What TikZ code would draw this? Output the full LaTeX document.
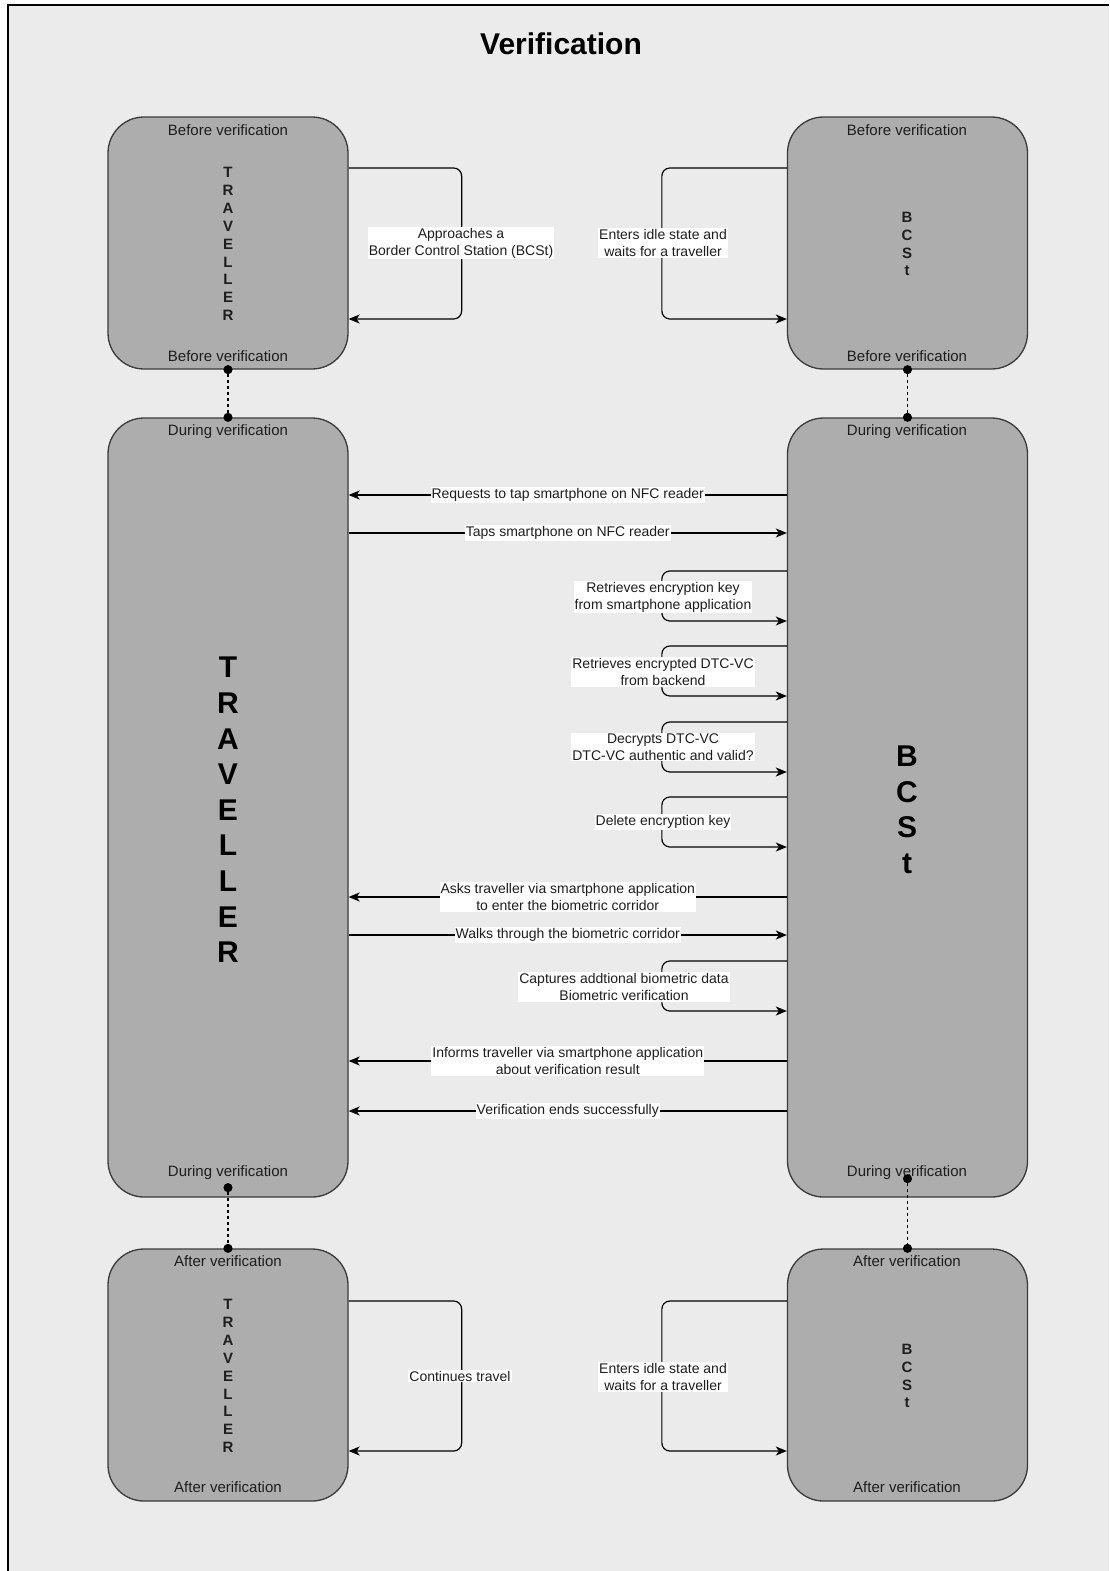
\documentclass[tikz,border=0pt]{standalone}
\usepackage{fontspec}
\setmainfont{Liberation Sans}
\usetikzlibrary{arrows.meta}
\definecolor{pagegray}{HTML}{EBEBEB}
\definecolor{boxgray}{HTML}{ADADAD}
\definecolor{edgegray}{HTML}{3A3A3A}
\definecolor{inkgray}{HTML}{1E1E1E}

\begin{document}
\begin{tikzpicture}[
	x=1pt, y=-1pt,
	lane/.style={
		draw=edgegray,
		fill=boxgray,
		rounded corners=36pt,
		line width=1.3pt,
		minimum width=240pt,
		inner sep=0pt
	},
	phase/.style={font=\fontsize{15}{18}\selectfont, text=inkgray, inner sep=0pt},
	actor/.style={align=center, font=\fontsize{15}{17.9}\selectfont\bfseries, text=inkgray},
	bigactor/.style={align=center, font=\fontsize{30}{35.6}\selectfont\bfseries, text=black},
	msg/.style={fill=white, sharp corners, align=center, inner sep=1pt, font=\fontsize{14}{17}\selectfont, text=inkgray},
	flow/.style={draw=black, line width=1.2pt, rounded corners=8pt},
	link/.style={
		draw=black, line width=1.1pt, dash pattern=on 3pt off 3pt,
		{Circle[length=9pt]}-{Circle[length=9pt]},
		shorten <=-4.5pt, shorten >=-4.5pt
	},
	>={Stealth[length=11pt,width=9pt,inset=3pt]}
	]
	
	\useasboundingbox (0,0) rectangle (1109,1571);
	\fill[white] (0,0) rectangle (1109,1571);
	\fill[pagegray] (8,5) rectangle (1109,1571);
	\draw[line width=1.3pt] (8,1571) -- (8,5) -- (1109,5);
	
	\node[font=\fontsize{30}{36}\selectfont\bfseries] (title) at (561,44) {Verification};
	
	\node[lane, minimum height=252pt] (trvB) at (228,243) {};
	\node[lane, minimum height=252pt] (bcsB) at (907.5,243) {};
	\node[lane, minimum height=779pt] (trvD) at (228,807.5) {};
	\node[lane, minimum height=779pt] (bcsD) at (907.5,807.5) {};
	\node[lane, minimum height=252pt] (trvA) at (228,1375) {};
	\node[lane, minimum height=252pt] (bcsA) at (907.5,1375) {};
	
	\node[phase] (trvBt) at (228,130) {Before verification};
	\node[phase] (trvBb) at (228,356) {Before verification};
	\node[phase] (bcsBt) at (907,130) {Before verification};
	\node[phase] (bcsBb) at (907,356) {Before verification};
	\node[phase] (trvDt) at (228,432) {During verification};
	\node[phase] (trvDb) at (228,1173) {During verification};
	\node[phase] (bcsDt) at (907,432) {During verification};
	\node[phase] (bcsDb) at (907,1173) {During verification};
	\node[phase] (trvAt) at (228,1261) {After verification};
	\node[phase] (trvAb) at (228,1487) {After verification};
	\node[phase] (bcsAt) at (907,1261) {After verification};
	\node[phase] (bcsAb) at (907,1487) {After verification};
	
	\node[actor] (trvBn) at (228,244) {T\\R\\A\\V\\E\\L\\L\\E\\R};
	\node[actor] (bcsBn) at (907,244) {B\\C\\S\\t};
	\node[bigactor] (trvDn) at (228,810) {T\\R\\A\\V\\E\\L\\L\\E\\R};
	\node[bigactor] (bcsDn) at (907,810) {B\\C\\S\\t};
	\node[actor] (trvAn) at (228,1376) {T\\R\\A\\V\\E\\L\\L\\E\\R};
	\node[actor] (bcsAn) at (907,1376) {B\\C\\S\\t};
	
	\draw[link] (trvB.south) -- (trvD.north);
	\draw[link] (bcsB.south) -- (bcsD.north);
	\draw[link] ([yshift=10pt]trvD.south) -- (trvA.north);
	\draw[link] ([yshift=19pt]bcsD.south) -- (bcsA.north);
	
	\draw[flow, ->] (trvB.east |- 0,168) -- ++(113,0) -- ++(0,151) -- (trvB.east |- 0,319);
	\node[msg] (tb) at (461,243) {Approaches a\\Border Control Station (BCSt)};
	\draw[flow, ->] (bcsB.west |- 0,168) -- ++(-125,0) -- ++(0,151) -- (bcsB.west |- 0,319);
	\node[msg] (bb) at (663,243) {Enters idle state and\\waits for a traveller};
	
	\draw[flow, ->] (bcsD.west |- 0,495) -- node[msg] (m1) {Requests to tap smartphone on NFC reader} (trvD.east |- 0,495);
	\draw[flow, ->] (trvD.east |- 0,533) -- node[msg] (m2) {Taps smartphone on NFC reader} (bcsD.west |- 0,533);
	
	\draw[flow, ->] (bcsD.west |- 0,571) -- ++(-125,0) -- ++(0,50) -- (bcsD.west |- 0,621);
	\node[msg] (s1) at (663,597) {Retrieves encryption key\\from smartphone application};
	\draw[flow, ->] (bcsD.west |- 0,646) -- ++(-125,0) -- ++(0,50) -- (bcsD.west |- 0,696);
	\node[msg] (s2) at (663,672) {Retrieves encrypted DTC-VC\\from backend};
	\draw[flow, ->] (bcsD.west |- 0,722) -- ++(-125,0) -- ++(0,50) -- (bcsD.west |- 0,772);
	\node[msg] (s3) at (663,747) {Decrypts DTC-VC\\DTC-VC authentic and valid?};
	\draw[flow, ->] (bcsD.west |- 0,797) -- ++(-125,0) -- ++(0,50) -- (bcsD.west |- 0,847);
	\node[msg] (s4) at (663,822) {Delete encryption key};
	
	\draw[flow, ->] (bcsD.west |- 0,897) -- node[msg] (m3) {Asks traveller via smartphone application\\to enter the biometric corridor} (trvD.east |- 0,897);
	\draw[flow, ->] (trvD.east |- 0,935) -- node[msg] (m4) {Walks through the biometric corridor} (bcsD.west |- 0,935);
	
	\draw[flow, ->] (bcsD.west |- 0,961) -- ++(-125,0) -- ++(0,50) -- (bcsD.west |- 0,1011);
	\node[msg] (s5) at (624,987) {Captures addtional biometric data\\Biometric verification};
	
	\draw[flow, ->] (bcsD.west |- 0,1061) -- node[msg] (m5) {Informs traveller via smartphone application\\about verification result} (trvD.east |- 0,1061);
	\draw[flow, ->] (bcsD.west |- 0,1111) -- node[msg] (m6) {Verification ends successfully} (trvD.east |- 0,1111);
	
	\draw[flow, ->] (trvA.east |- 0,1301) -- ++(113,0) -- ++(0,150) -- (trvA.east |- 0,1451);
	\node[msg] (ta) at (460,1376) {Continues travel};
	\draw[flow, ->] (bcsA.west |- 0,1301) -- ++(-125,0) -- ++(0,150) -- (bcsA.west |- 0,1451);
	\node[msg] (ba) at (663,1377) {Enters idle state and\\waits for a traveller};
	
\end{tikzpicture}
\end{document}
